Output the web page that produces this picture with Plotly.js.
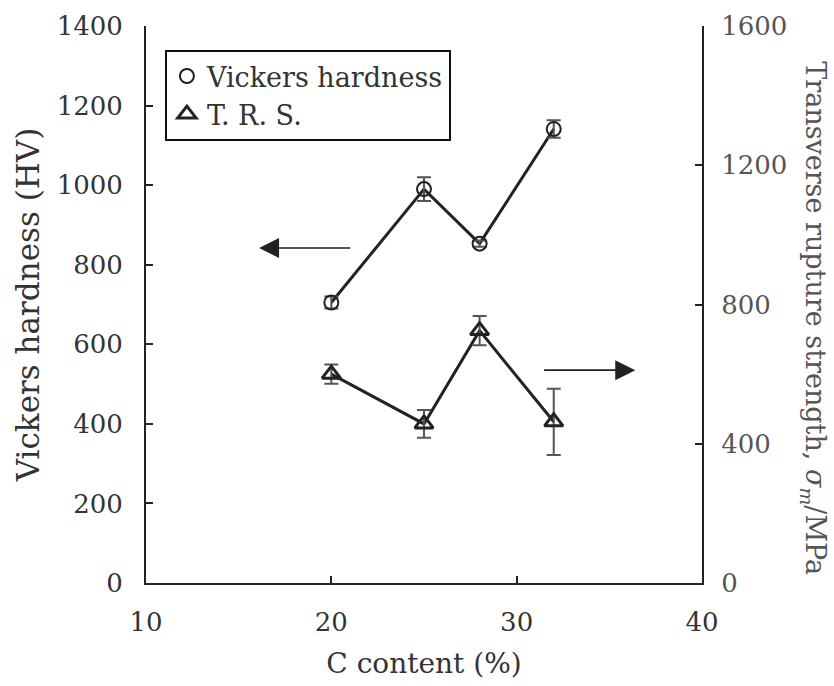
<!DOCTYPE html>
<html>
<head>
<meta charset="utf-8">
<script src="https://cdn.plot.ly/plotly-3.0.1.min.js"></script>
<style>html,body{margin:0;padding:0;background:#fff;}#chart{width:834px;height:686px;}</style>
</head>
<body>
<div id="chart"></div>
<script>
// ---- data ----
const carbon = [20, 25, 28, 32];                 // C content (%)
const hardness = [705, 990, 853, 1141];          // Vickers hardness (HV)
const hardnessErr = [15, 30, 8, 22];
const trs = [600, 457, 725, 463];                // transverse rupture strength (MPa)
const trsErr = [28, 40, 42, 95];
const xTicks = [10, 20, 30, 40];
const yLeftTicks = [0, 200, 400, 600, 800, 1000, 1200, 1400];
const yRightTicks = [0, 400, 800, 1200, 1600];
// arrow annotations: [tailX, headX, y(left axis)]
const arrowLeft = [21.1, 16.1, 842];
const arrowRight = [31.4, 36.4, 535];

const FONT = "DejaVu Serif, Liberation Serif, serif";
const dark = "#222";

const traces = [
  {x: carbon, y: hardness, mode: "lines", line: {color: dark, width: 3}, showlegend: false, hoverinfo: "skip"},
  {x: carbon, y: hardness, mode: "markers", name: "Vickers hardness",
   marker: {symbol: "circle-open", size: 14, color: dark, line: {width: 2, color: dark}},
   error_y: {type: "data", array: hardnessErr, visible: true, color: "#555", thickness: 2, width: 7}},
  {x: carbon, y: trs, yaxis: "y2", mode: "lines", line: {color: dark, width: 3}, showlegend: false, hoverinfo: "skip"},
  {x: carbon, y: trs, yaxis: "y2", mode: "markers", name: "T. R. S.",
   marker: {symbol: "triangle-up-open", size: 16, color: dark, line: {width: 3, color: dark}},
   error_y: {type: "data", array: trsErr, visible: true, color: "#555", thickness: 2, width: 7}}
];

const layout = {
  width: 834, height: 686,
  margin: {l: 146, r: 132, t: 26, b: 103},
  paper_bgcolor: "#fff", plot_bgcolor: "#fff",
  font: {family: FONT, size: 26, color: "#333"},
  showlegend: true,
  legend: {x: 0.034, y: 0.957, xanchor: "left", yanchor: "top",
           bordercolor: "#111", borderwidth: 2, bgcolor: "#fff",
           font: {family: FONT, size: 27, color: "#333"}},
  xaxis: {range: [10, 40], tickvals: xTicks, ticktext: xTicks.map(String),
          showgrid: false, zeroline: false, showline: true, linecolor: dark, linewidth: 2,
          ticks: "inside", ticklen: 7, tickwidth: 2, tickcolor: dark, ticklabelstandoff: 15,
          title: {text: "C content (%)", font: {family: FONT, size: 28, color: "#333"}, standoff: 17},
          tickfont: {family: FONT, size: 26, color: "#333"}},
  yaxis: {range: [0, 1400], tickvals: yLeftTicks, ticktext: yLeftTicks.map(String),
          showgrid: false, zeroline: false, showline: true, linecolor: dark, linewidth: 2,
          ticks: "inside", ticklen: 7, tickwidth: 2, tickcolor: dark, ticklabelstandoff: 16,
          title: {text: "Vickers hardness (HV)", font: {family: FONT, size: 31, color: "#333"}, standoff: 8},
          tickfont: {family: FONT, size: 26, color: "#333"}},
  yaxis2: {range: [0, 1600], tickvals: yRightTicks, ticktext: yRightTicks.map(String),
           overlaying: "y", side: "right",
           showgrid: false, zeroline: false, showline: true, linecolor: dark, linewidth: 2,
           ticks: "inside", ticklen: 7, tickwidth: 2, tickcolor: dark, ticklabelstandoff: 12,
           tickfont: {family: FONT, size: 26, color: "#555"}},
  annotations: [
    {x: arrowLeft[1], y: arrowLeft[2], ax: arrowLeft[0], ay: arrowLeft[2], xref: "x", yref: "y",
     axref: "x", ayref: "y", text: "", showarrow: true, arrowhead: 2, arrowsize: 2.5, arrowwidth: 1.6, arrowcolor: dark},
    {x: arrowRight[1], y: arrowRight[2], ax: arrowRight[0], ay: arrowRight[2], xref: "x", yref: "y",
     axref: "x", ayref: "y", text: "", showarrow: true, arrowhead: 2, arrowsize: 2.5, arrowwidth: 1.6, arrowcolor: dark},
    {x: 1.2, y: 0.475, xref: "paper", yref: "paper", xanchor: "center", yanchor: "middle",
     showarrow: false, textangle: 90,
     text: "Transverse rupture strength, <i>σ</i><sub><i>m</i></sub>/MPa",
     font: {family: FONT, size: 27, color: "#555"}}
  ]
};

Plotly.newPlot("chart", traces, layout, {displayModeBar: false, staticPlot: true});
</script>
</body>
</html>
